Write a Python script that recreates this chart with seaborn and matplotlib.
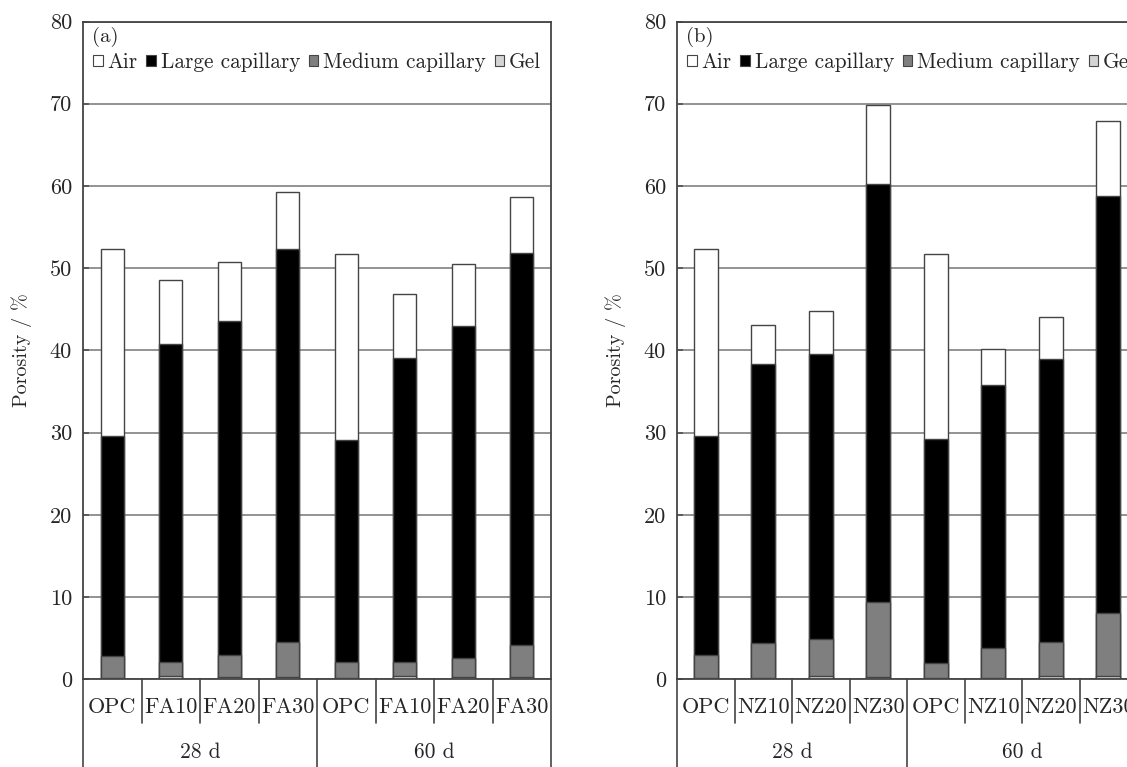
import numpy as np
import pandas as pd
import matplotlib
matplotlib.use("Agg")
import matplotlib.pyplot as plt
from matplotlib.patches import Patch
import seaborn as sns

# ---------------- data ----------------
ages = ["28 d", "28 d", "28 d", "28 d", "60 d", "60 d", "60 d", "60 d"]
mixes_a = ["OPC", "FA10", "FA20", "FA30", "OPC", "FA10", "FA20", "FA30"]
mixes_b = ["OPC", "NZ10", "NZ20", "NZ30", "OPC", "NZ10", "NZ20", "NZ30"]
layers = ["Air", "Large capillary", "Medium capillary", "Gel"]

# component porosities (%)
gel_a = [0.2, 0.4, 0.3, 0.3, 0.1, 0.4, 0.3, 0.3]
medium_a = [2.6, 1.7, 2.6, 4.2, 2.0, 1.7, 2.3, 3.8]
large_a = [26.8, 38.7, 40.7, 47.8, 27.0, 37.0, 40.4, 47.8]
air_a = [22.7, 7.8, 7.2, 7.0, 22.6, 7.7, 7.5, 6.8]

gel_b = [0.2, 0.2, 0.4, 0.3, 0.1, 0.2, 0.4, 0.4]
medium_b = [2.7, 4.2, 4.5, 9.1, 1.9, 3.6, 4.1, 7.7]
large_b = [26.7, 34.0, 34.6, 50.8, 27.2, 32.0, 34.4, 50.7]
air_b = [22.7, 4.7, 5.3, 9.6, 22.5, 4.4, 5.1, 9.1]

y_ticks = [0, 10, 20, 30, 40, 50, 60, 70, 80]
panel_tags = ["(a)", "(b)"]

colors = {"Air": "#ffffff", "Large capillary": "#000000",
          "Medium capillary": "#7f7f7f", "Gel": "#d4d4d4"}
edge = "#444444"

# ---------------- style ----------------
sns.set_theme(style="white")
plt.rcParams["font.family"] = ["cmr10", "DejaVu Serif"]
plt.rcParams["axes.formatter.use_mathtext"] = True

W, H = 1127, 767
fig = plt.figure(figsize=(W / 100, H / 100), dpi=100)

y0_px, y80_px = 679.2, 21.5
bottom = (H - y0_px) / H
height = (y0_px - y80_px) / H
ax_px = y0_px - y80_px
ax1 = fig.add_axes([83 / W, bottom, 468 / W, height])
ax2 = fig.add_axes([677 / W, bottom, 460 / W, height])


def build(mixes, gel, medium, large, air):
    keys = [f"{a}|{m}" for a, m in zip(ages, mixes)]
    g = np.array(gel)
    mtop = g + np.array(medium)
    ltop = mtop + np.array(large)
    tot = ltop + np.array(air)
    return pd.DataFrame({"key": keys, "mix": mixes, "age": ages,
                         "Gel": g, "Medium capillary": mtop,
                         "Large capillary": ltop, "Air": tot})


def draw(ax, df, tag, width, ax_w_px):
    order = list(df["key"])
    for layer in layers:  # tallest (cumulative) first, then overdraw
        sns.barplot(data=df, x="key", y=layer, order=order, ax=ax,
                    color=colors[layer], saturation=1, width=width,
                    edgecolor=edge, linewidth=1.0, errorbar=None)
    ax.set_xlim(-0.5, 7.5)
    ax.set_ylim(0, 80)
    ax.set_yticks(y_ticks)
    ax.set_yticklabels([str(t) for t in y_ticks], fontsize=16)
    ax.set_xticks([])
    ax.set_xlabel("")
    ax.set_ylabel("Porosity / %", fontsize=14.5, labelpad=13)
    ax.set_axisbelow(True)
    ax.yaxis.grid(True, color="#808080", linewidth=1.2)
    ax.tick_params(axis="y", direction="in", length=4, color="#555555",
                   pad=8, left=True)
    for s in ax.spines.values():
        s.set_color("#444444")
        s.set_linewidth(1.3)

    off = 9 / ax_w_px
    ax.text(off, (y0_px - 37) / ax_px, tag, transform=ax.transAxes,
            fontsize=15, va="center", ha="left")
    handles = [Patch(facecolor=colors[l], edgecolor=edge, linewidth=0.8, label=l)
               for l in layers]
    ax.legend(handles=handles, loc="center left",
              bbox_to_anchor=(10 / ax_w_px, (y0_px - 62) / ax_px),
              ncol=4, frameon=False, fontsize=15.3, handlelength=0.45,
              handleheight=0.4, handletextpad=0.22, columnspacing=0.42,
              borderaxespad=0, borderpad=0)

    # category table below the axis
    trans = ax.get_xaxis_transform()
    px = 1 / ax_px
    y_row1 = -(723 - y0_px) * px
    y_bot = -(770 - y0_px) * px
    for k in [0.5, 1.5, 2.5, 4.5, 5.5, 6.5]:
        ax.plot([k, k], [0, y_row1], transform=trans, color="#444444",
                lw=1.2, clip_on=False)
    for k in [-0.5, 3.5, 7.5]:
        ax.plot([k, k], [0, y_bot], transform=trans, color="#444444",
                lw=1.2, clip_on=False)
    for i, m in enumerate(df["mix"]):
        ax.text(i, -(707 - y0_px) * px, m, transform=trans, ha="center",
                va="center", fontsize=16)
    for g, xc in zip(["28 d", "60 d"], [1.5, 5.5]):
        ax.text(xc, -(752 - y0_px) * px, g, transform=trans, ha="center",
                va="center", fontsize=15.5)


draw(ax1, build(mixes_a, gel_a, medium_a, large_a, air_a), panel_tags[0], 0.4, 468)
draw(ax2, build(mixes_b, gel_b, medium_b, large_b, air_b), panel_tags[1], 0.42, 460)

fig.savefig("out.png", dpi=100)
